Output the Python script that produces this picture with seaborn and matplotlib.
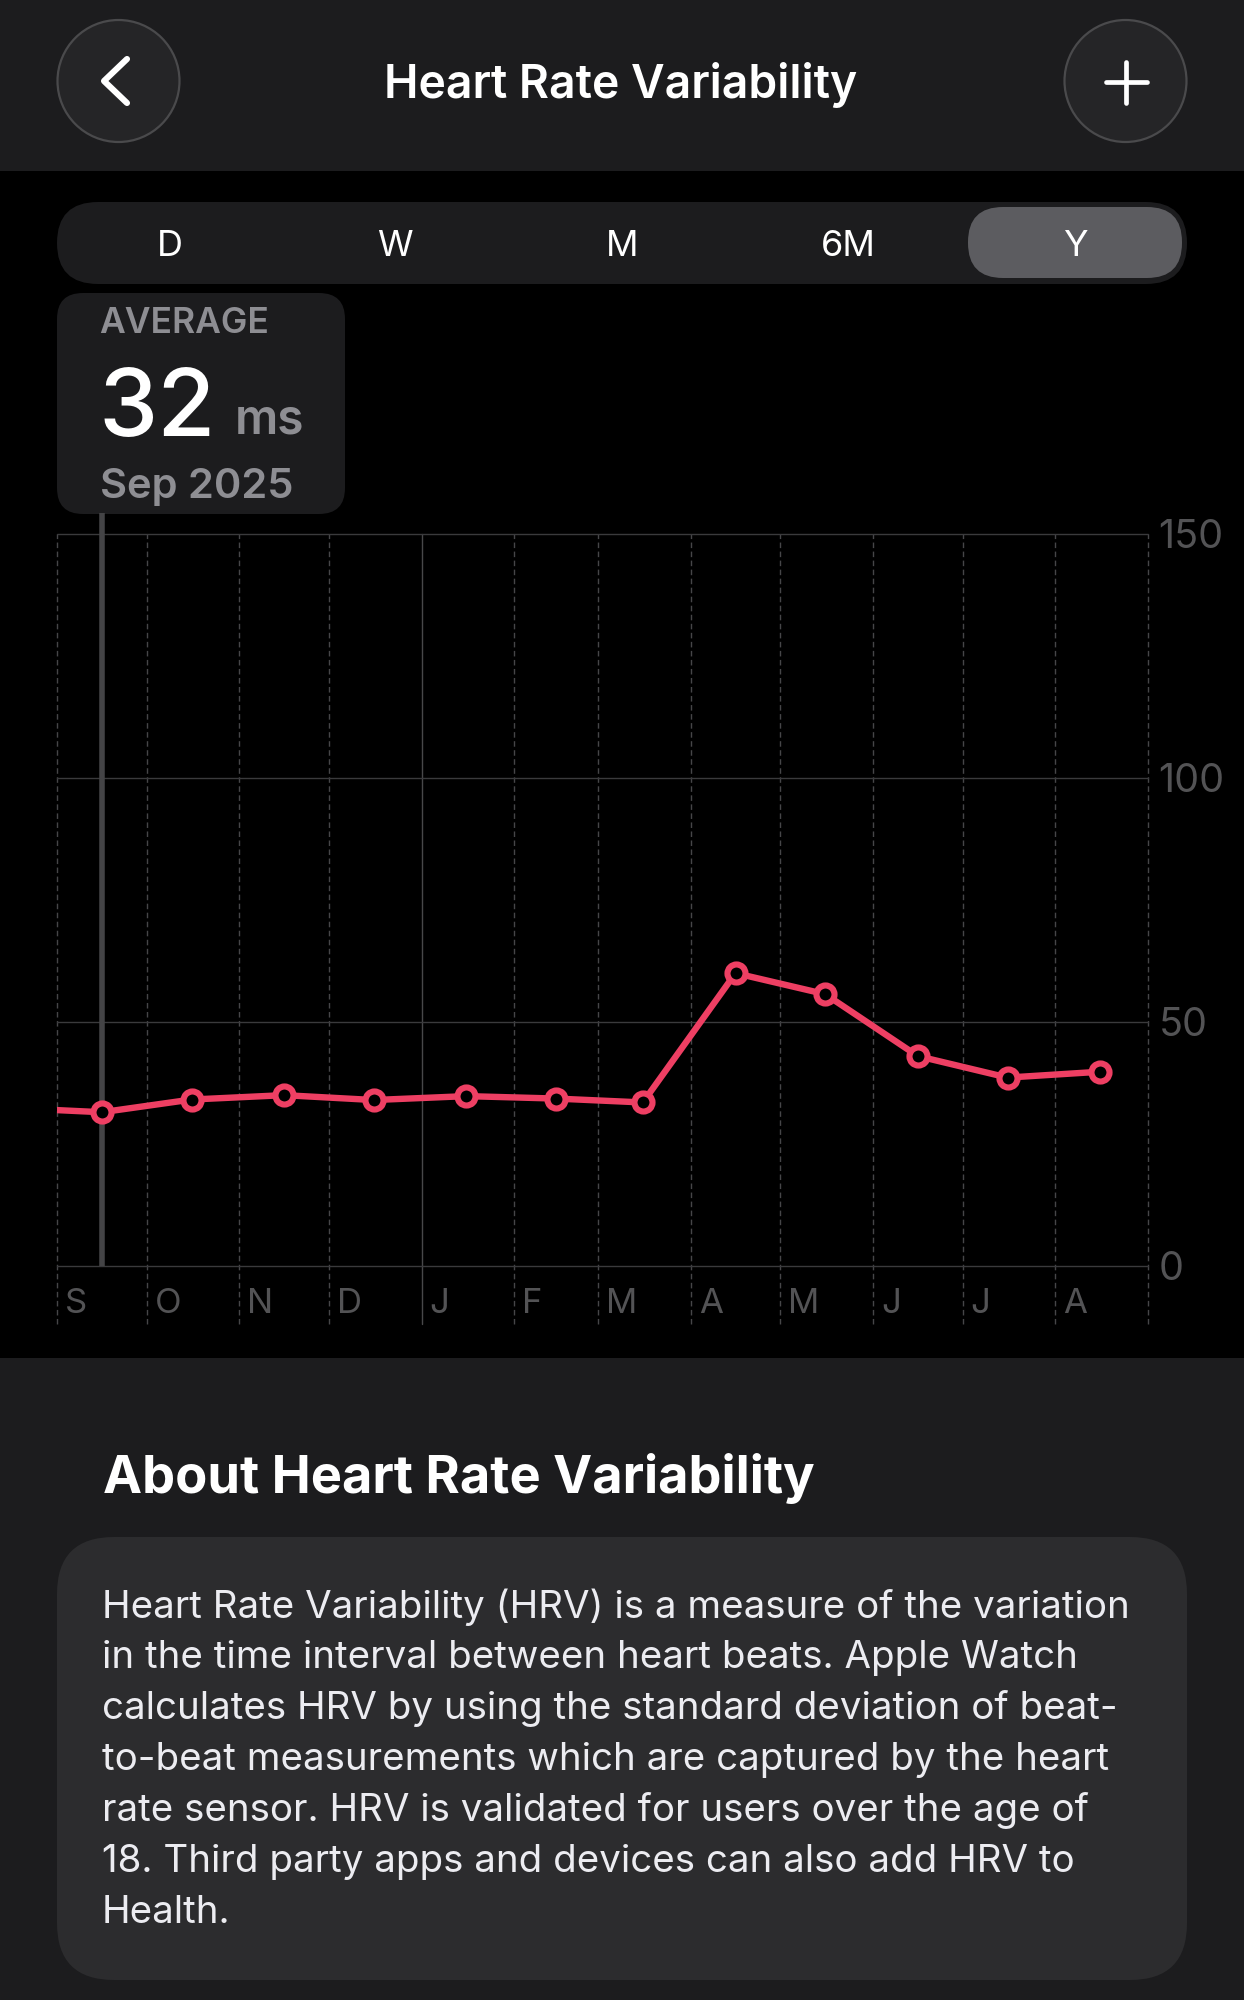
import matplotlib
matplotlib.use("Agg")
import matplotlib.pyplot as plt
import matplotlib.dates as mdates
from matplotlib.patches import FancyBboxPatch, Circle
from matplotlib.transforms import ScaledTranslation
import pandas as pd
import seaborn as sns

# --- Data ---
month_starts = ["2025-09-01", "2025-10-01", "2025-11-01", "2025-12-01", "2026-01-01", "2026-02-01",
                "2026-03-01", "2026-04-01", "2026-05-01", "2026-06-01", "2026-07-01", "2026-08-01",
                "2026-09-01"]
month_labels = ["S", "O", "N", "D", "J", "F", "M", "A", "M", "J", "J", "A", ""]
hrv_dates = ["2025-08-16", "2025-09-16", "2025-10-16", "2025-11-16", "2025-12-16", "2026-01-16",
             "2026-02-15", "2026-03-16", "2026-04-16", "2026-05-16", "2026-06-16", "2026-07-16",
             "2026-08-16"]
hrv_values = [32.4, 31.5, 34.1, 35.0, 34.0, 34.8, 34.3, 33.5, 60.0, 55.7, 43.0, 38.6, 39.8]
selected_date = "2025-09-16"
y_ticks = [0, 50, 100, 150]
tabs = ["D", "W", "M", "6M", "Y"]
about_lines = [
    "Heart Rate Variability (HRV) is a measure of the variation",
    "in the time interval between heart beats. Apple Watch",
    "calculates HRV by using the standard deviation of beat-",
    "to-beat measurements which are captured by the heart",
    "rate sensor. HRV is validated for users over the age of",
    "18. Third party apps and devices can also add HRV to",
    "Health.",
]

# --- Style ---
W, H = 1244, 2000
PANEL = "#1c1c1e"
CARD = "#2c2c2e"
GREY = "#8e8e93"
GRID = "#3a3a3c"
TICK = "#535355"
PINK = "#ee3f63"

sns.set_theme(style="dark", rc={"figure.facecolor": "black", "axes.facecolor": "black"})
plt.rcParams["font.family"] = ["Inter", "DejaVu Sans"]

fig = plt.figure(figsize=(W / 100, H / 100), dpi=100)

# --- Screen furniture, drawn in pixel coordinates ---
bg = fig.add_axes([0, 0, 1, 1], zorder=0)
bg.set_xlim(0, W)
bg.set_ylim(H, 0)
bg.axis("off")


def box(x0, y0, x1, y1, radius, color, **kw):
    bg.add_patch(FancyBboxPatch((x0 + radius, y0 + radius), x1 - x0 - 2 * radius, y1 - y0 - 2 * radius,
                                boxstyle=f"round,pad={radius},rounding_size={radius}",
                                facecolor=color, edgecolor="none", **kw))


bg.axhspan(0, 171, color=PANEL, lw=0)
bg.axhspan(1358, H, color=PANEL, lw=0)

# header buttons
for cx in (118.5, 1125.5):
    bg.add_patch(Circle((cx, 81), 61, facecolor="#252527", edgecolor="#4a4a4c", lw=1.6))
bg.plot([127, 104, 127], [59, 81, 103], color="white", lw=4.4, solid_capstyle="round", solid_joinstyle="round")
bg.plot([1105.5, 1147], [82, 82], color="white", lw=3.4, solid_capstyle="round")
bg.plot([1126, 1126], [62, 103], color="white", lw=3.4, solid_capstyle="round")
bg.text(621, 85, "Heart Rate Variability", color="white", fontsize=33.3, fontweight="semibold",
        ha="center", va="center")

# period selector
box(57, 202, 1187, 284, 41, PANEL)
box(968, 207, 1182, 278, 35, "#5c5c60")
for label, cx in zip(tabs, (170, 395, 622, 848, 1075)):
    bg.text(cx, 246, label, color="white", fontsize=26, ha="center", va="center")

# selected value callout
box(57, 293, 345, 514, 26, PANEL)
bg.text(99, 333, "AVERAGE", color=GREY, fontsize=25.5, fontweight="semibold", ha="left", va="baseline")
bg.text(98, 436, "32", color="white", fontsize=68, fontweight="medium", ha="left", va="baseline")
bg.text(235, 434, "ms", color=GREY, fontsize=34.5, fontweight="semibold", ha="left", va="baseline")
bg.text(100, 498, "Sep 2025", color=GREY, fontsize=30, fontweight="semibold", ha="left", va="baseline")

# about section
bg.text(103, 1478, "About Heart Rate Variability", color="white", fontsize=37.7, fontweight="bold",
        ha="left", va="center")
box(57, 1537, 1187, 1980, 57, CARD)
for i, line in enumerate(about_lines):
    bg.text(102, 1607 + i * 51, line, color="#ececf1", fontsize=27.7, ha="left", va="center")

# --- Chart ---
df = pd.DataFrame({"date": pd.to_datetime(hrv_dates), "hrv": hrv_values})
ticks = pd.to_datetime(month_starts)

ax = fig.add_axes([57 / W, (H - 1324) / H, (1148 - 57) / W, (1324 - 534) / H], zorder=1)
ax.patch.set_alpha(0)

ax.vlines(pd.Timestamp(selected_date), 0, 154.3, color="#444446", lw=4, clip_on=False, zorder=2)
sns.lineplot(data=df, x="date", y="hrv", ax=ax, estimator=None, errorbar=None, color=PINK, linewidth=4.6,
             marker="o", markersize=13, markeredgewidth=4.4, markeredgecolor=PINK, markerfacecolor="black",
             zorder=3)

ax.set_xlim(ticks[0], ticks[-1])
ax.set_ylim(-11.9, 150)
ax.set_xlabel("")
ax.set_ylabel("")
for side in ax.spines:
    ax.spines[side].set_visible(False)

ax.set_xticks(mdates.date2num(ticks))
ax.set_xticklabels(month_labels)
ax.set_yticks(y_ticks)
ax.yaxis.tick_right()
ax.tick_params(axis="x", length=0, pad=-26, labelsize=25, labelcolor=TICK)
ax.tick_params(axis="y", length=0, pad=7.5, labelsize=28.5, labelcolor=TICK)

# month letters sit just right of their gridline, inside the axes
shift = ScaledTranslation(8 / 100, 0, fig.dpi_scale_trans)
for label in ax.get_xticklabels():
    label.set_ha("left")
    label.set_transform(label.get_transform() + shift)

ax.grid(True, axis="y", color=GRID, lw=1, clip_on=False)
ax.grid(True, axis="x", color="#464648", lw=1, linestyle=(0, (4, 2.5)))
for gridline, start in zip(ax.get_xgridlines(), ticks):
    gridline.set_clip_on(False)
    if start.month == 1:
        gridline.set_linestyle("-")
        gridline.set_color("#48484a")

fig.savefig("out.png", dpi=100, facecolor="black")
